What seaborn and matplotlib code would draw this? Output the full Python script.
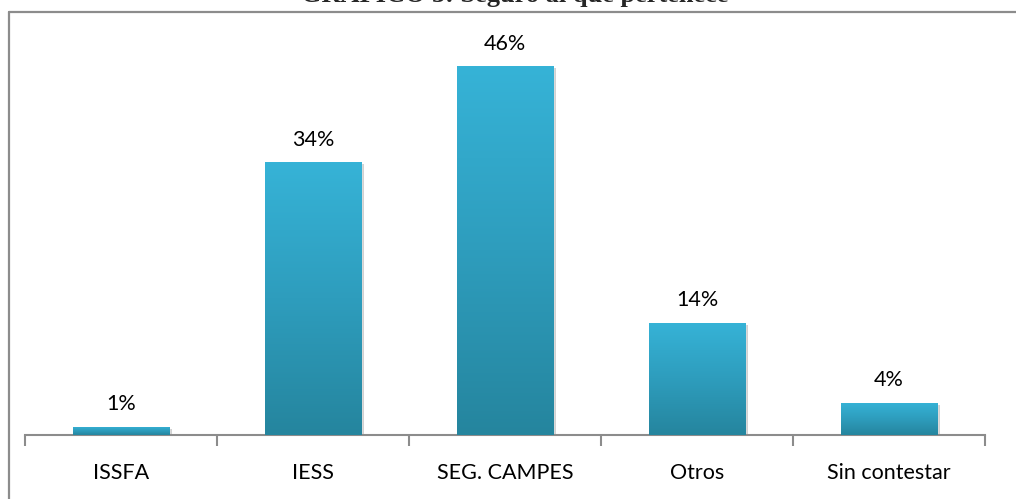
import numpy as np
import pandas as pd
import matplotlib
matplotlib.use("Agg")
import matplotlib.pyplot as plt
import matplotlib.patheffects as pe
from matplotlib.colors import LinearSegmentedColormap
from matplotlib.lines import Line2D
import seaborn as sns

# Data
categorias = ["ISSFA", "IESS", "SEG. CAMPES", "Otros", "Sin contestar"]
porcentajes = [1, 34, 46, 14, 4]
etiquetas = ["1%", "34%", "46%", "14%", "4%"]
titulo = "GRÁFICO 3: Seguro al que pertenece"

df = pd.DataFrame({"Seguro": categorias, "Porcentaje": porcentajes})

sns.set_theme(style="white")
plt.rcParams["font.family"] = ["Lato", "DejaVu Sans"]

W, H = 1016, 499
fig = plt.figure(figsize=(W / 100, H / 100), dpi=100)
# axes: x from 25 to 985 px, y from 20 to 435 px
ax = fig.add_axes([25 / W, (H - 435) / H, 960 / W, 415 / H])

sns.barplot(data=df, x="Seguro", y="Porcentaje", color="#2f9fc0",
            width=0.505, ax=ax, zorder=2)

ax.set_xlim(-0.5, 4.5)
ax.set_ylim(0, 415 / 8.02)

# gradient fill for each bar
grad_cmap = LinearSegmentedColormap.from_list("g", ["#25859e", "#2e9dbd", "#36b3d7"])
grad = np.linspace(0, 1, 256).reshape(-1, 1)
for patch in ax.patches:
    x0, y0 = patch.get_x(), patch.get_y()
    w, h = patch.get_width(), patch.get_height()
    patch.set_path_effects([pe.SimplePatchShadow(offset=(1.5, -1.5), shadow_rgbFace="#000000", alpha=0.18),
                            pe.Normal()])
    im = ax.imshow(grad, cmap=grad_cmap, aspect="auto", origin="lower",
                   extent=(x0, x0 + w, y0, y0 + h), zorder=3)
    im.set_clip_path(patch)

# value labels
for i, (v, t) in enumerate(zip(porcentajes, etiquetas)):
    ax.annotate(t, (i, v), xytext=(0, 9), textcoords="offset points",
                ha="center", va="bottom", fontsize=15.5, color="#000000")

# axis styling
for s in ["top", "right", "left"]:
    ax.spines[s].set_visible(False)
ax.spines["bottom"].set_color("#8c8c8c")
ax.spines["bottom"].set_linewidth(1.5)
ax.set_yticks([])
ax.set_xlabel("")
ax.set_ylabel("")
ax.set_xticks(range(len(categorias)))
ax.set_xticklabels(categorias)
ax.set_xticks(np.arange(-0.5, 5.0, 1.0), minor=True)
ax.tick_params(axis="x", which="minor", bottom=True, length=8, width=1.5,
               color="#8c8c8c", direction="out")
ax.tick_params(axis="x", which="major", bottom=True, length=0, pad=20,
               labelsize=15.5, labelcolor="#000000")
ax.set_xlim(-0.5, 4.5)
ax.set_facecolor("none")

# chart frame (top and left edges visible, rest cropped)
fig.add_artist(Line2D([8.5 / W, 8.5 / W], [0, (H - 12) / H], color="#8c8c8c", lw=1.6,
                      transform=fig.transFigure))
fig.add_artist(Line2D([8.5 / W, 1], [(H - 12) / H, (H - 12) / H], color="#8c8c8c", lw=1.6,
                      transform=fig.transFigure))

# title, mostly clipped by the top edge as in the source image
fig.text(515 / W, (H - 2) / H, titulo, ha="center", va="baseline",
         fontsize=19, fontweight="bold", family=["Liberation Serif", "DejaVu Serif"])

fig.savefig("out.png", dpi=100)
